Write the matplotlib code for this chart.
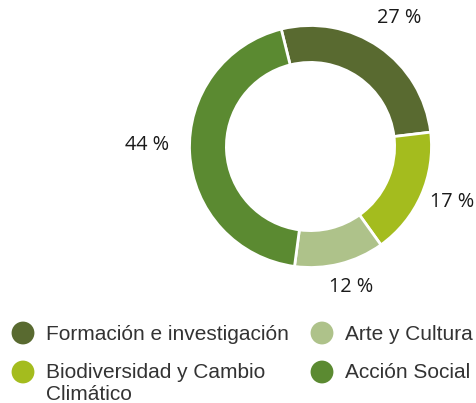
import numpy as np
import matplotlib
matplotlib.use("Agg")
import matplotlib.pyplot as plt

# share of projects per area
categories = ["Formación e investigación", "Biodiversidad y Cambio\nClimático",
              "Arte y Cultura", "Acción Social"]
values = [27, 17, 12, 44]
colors = ["#596a30", "#a4bc1e", "#aec28a", "#5b8a31"]
labels = ["27 %", "17 %", "12 %", "44 %"]

W, H = 477, 403
fig = plt.figure(figsize=(W / 100, H / 100), dpi=100)
ax = fig.add_axes([0, 0, 1, 1])

cx, cy, R = 310.5, H - 146.5, 121
wedges, _ = ax.pie(values, colors=colors, center=(cx, cy), radius=R,
                   startangle=104, counterclock=False,
                   wedgeprops=dict(width=R * 0.305, edgecolor="white", linewidth=2))
ax.set_xlim(0, W)
ax.set_ylim(0, H)
ax.set_aspect("equal")
ax.axis("off")

# percent labels outside the ring: distance and small angle nudge per wedge
dist = [1.29, 1.26, 1.21, 1.35]
nudge = [0, 2.3, 2.3, -3.9]
for w, lab, d, n in zip(wedges, labels, dist, nudge):
    ang = np.deg2rad((w.theta1 + w.theta2) / 2 + n)
    ax.text(cx + R * d * np.cos(ang), cy + R * d * np.sin(ang), lab,
            ha="center", va="center", fontsize=14.3, color="#1a1a1a",
            family="Open Sans")

# legend in two columns, drawn by hand
leg_x = [23, 322]
leg_y = [H - 333, H - 372, H - 333, H - 372]
for i, (name, col) in enumerate(zip(categories, colors)):
    x = leg_x[i // 2]
    y = leg_y[i]
    ax.scatter([x], [y], s=270, color=col, edgecolor="none")
    for k, line in enumerate(name.split("\n")):
        ax.text(x + 23, y - 1 - 22 * k, line, ha="left", va="center",
                fontsize=15, color="#333333", family="Liberation Sans")

fig.savefig("out.png", dpi=100)
